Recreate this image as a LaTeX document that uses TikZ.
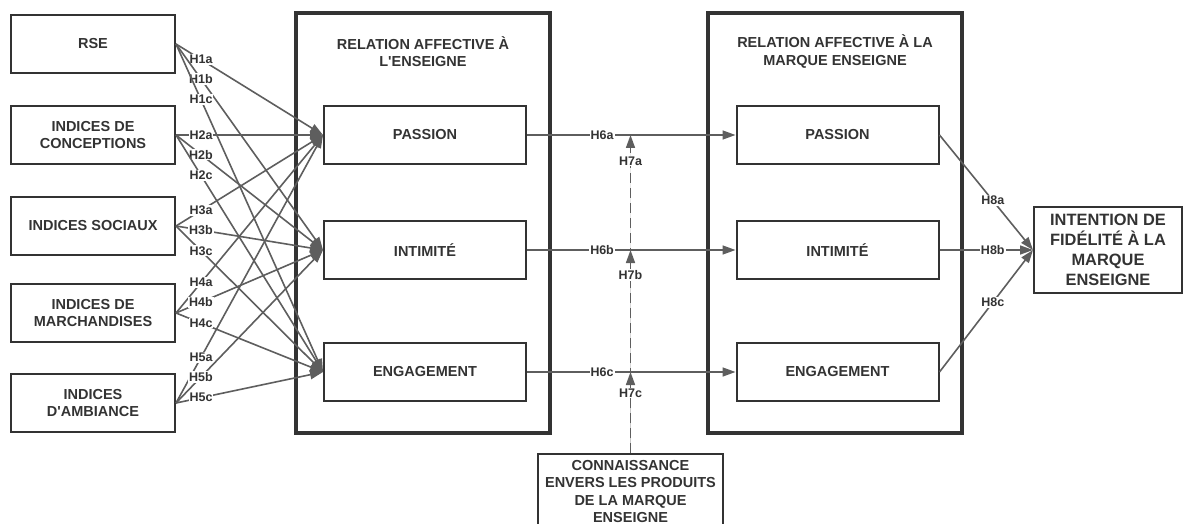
\documentclass[tikz,border=0pt]{standalone}
\usepackage{fontspec}
\setmainfont{Liberation Sans}
\usepackage{tikz}
\usetikzlibrary{arrows.meta,positioning,calc}
\definecolor{boxgray}{HTML}{333333}
\definecolor{linegray}{HTML}{5E5E5E}
\definecolor{textgray}{HTML}{333333}

\begin{document}
\begin{tikzpicture}[
  x=1pt, y=-1pt,
  font=\fontsize{14.5}{17.5}\selectfont\bfseries,
  cue/.style={draw=boxgray, line width=2pt, align=center, text=textgray,
              minimum width=164pt, minimum height=58pt},
  dim/.style={draw=boxgray, line width=2pt, align=center, text=textgray,
              minimum width=202pt, minimum height=58pt},
  frame/.style={draw=boxgray, line width=4pt, minimum width=254pt, minimum height=420pt},
  title/.style={align=center, text=textgray},
  hyp/.style={fill=white, inner sep=1pt, text=textgray,
              font=\fontsize{12.5}{14}\selectfont\bfseries},
  arrow/.style={-{Triangle[length=13pt,width=9pt]}, draw=linegray, fill=linegray, line width=1.6pt},
  dasharrow/.style={arrow, dash pattern=on 10pt off 5pt}
]
\useasboundingbox (0,0) rectangle (1184,524);
\clip (0,0) rectangle (1184,524);
% antecedents
\node[cue] (rse)  at (93,44)  {RSE};
\node[cue] (conc) at (93,135) {INDICES DE\\CONCEPTIONS};
\node[cue] (soc)  at (93,226) {INDICES SOCIAUX};
\node[cue] (mar)  at (93,313) {INDICES DE\\MARCHANDISES};
\node[cue] (amb)  at (93,403) {INDICES\\D\textquotesingle AMBIANCE};
% relation affective a l'enseigne
\node[frame] (ens) at (423,223) {};
\node[title] (ensT) at (423,51.5) {RELATION AFFECTIVE À\\L\textquotesingle ENSEIGNE};
\node[dim] (pa1) at (425,135) {PASSION};
\node[dim] (in1) at (425,250) {INTIMITÉ};
\node[dim] (en1) at (425,372) {ENGAGEMENT};
% relation affective a la marque enseigne
\node[frame] (mq) at (835,223) {};
\node[title] (mqT) at (835,51.5) {RELATION AFFECTIVE À LA\\MARQUE ENSEIGNE};
\node[dim] (pa2) at (837.5,135) {PASSION};
\node[dim] (in2) at (837.5,250) {INTIMITÉ};
\node[dim] (en2) at (837.5,372) {ENGAGEMENT};
% outcome and moderator
\node[draw=boxgray, line width=2pt, align=center, text=textgray, minimum width=148pt,
      minimum height=86pt, font=\fontsize{16.4}{20}\selectfont\bfseries]
      (fid) at (1108,250) {INTENTION DE\\FIDÉLITÉ À LA\\MARQUE\\ENSEIGNE};
\node[draw=boxgray, line width=2pt, align=center, text=textgray, minimum width=185pt,
      anchor=north, inner sep=6pt] (conn) at (630.5,453)
      {CONNAISSANCE\\ENVERS LES PRODUITS\\DE LA MARQUE\\ENSEIGNE};
% H1 - H5
\draw[arrow] (rse.east)  -- node[hyp, pos=.17] {H1a} (pa1.west);
\draw[arrow] (rse.east)  -- node[hyp, pos=.17] {H1b} (in1.west);
\draw[arrow] (rse.east)  -- node[hyp, pos=.17] {H1c} (en1.west);
\draw[arrow] (conc.east) -- node[hyp, pos=.17] {H2a} (pa1.west);
\draw[arrow] (conc.east) -- node[hyp, pos=.17] {H2b} (in1.west);
\draw[arrow] (conc.east) -- node[hyp, pos=.17] {H2c} (en1.west);
\draw[arrow] (soc.east)  -- node[hyp, pos=.17] {H3a} (pa1.west);
\draw[arrow] (soc.east)  -- node[hyp, pos=.17] {H3b} (in1.west);
\draw[arrow] (soc.east)  -- node[hyp, pos=.17] {H3c} (en1.west);
\draw[arrow] (mar.east)  -- node[hyp, pos=.17] {H4a} (pa1.west);
\draw[arrow] (mar.east)  -- node[hyp, pos=.17] {H4b} (in1.west);
\draw[arrow] (mar.east)  -- node[hyp, pos=.17] {H4c} (en1.west);
\draw[arrow] (amb.east)  -- node[hyp, pos=.17] {H5a} (pa1.west);
\draw[arrow] (amb.east)  -- node[hyp, pos=.17] {H5b} (in1.west);
\draw[arrow] (amb.east)  -- node[hyp, pos=.17] {H5c} (en1.west);
% H6
\draw[arrow] (pa1.east) -- node[hyp, pos=.36] {H6a} (pa2.west);
\draw[arrow] (in1.east) -- node[hyp, pos=.36] {H6b} (in2.west);
\draw[arrow] (en1.east) -- node[hyp, pos=.36] {H6c} (en2.west);
% H7 (moderation)
\draw[dasharrow] (conn.north) -- node[hyp, pos=.918] {H7a} (conn.north |- pa1.east);
\draw[dasharrow] (conn.north) -- node[hyp, pos=.877] {H7b} (conn.north |- in1.east);
\draw[dasharrow] (conn.north) -- node[hyp, pos=.74]  {H7c} (conn.north |- en1.east);
% H8
\draw[arrow] (pa2.east) -- node[hyp, pos=.57] {H8a} (fid.west);
\draw[arrow] (in2.east) -- node[hyp, pos=.57] {H8b} (fid.west);
\draw[arrow] (en2.east) -- node[hyp, pos=.57] {H8c} (fid.west);
\end{tikzpicture}
\end{document}
